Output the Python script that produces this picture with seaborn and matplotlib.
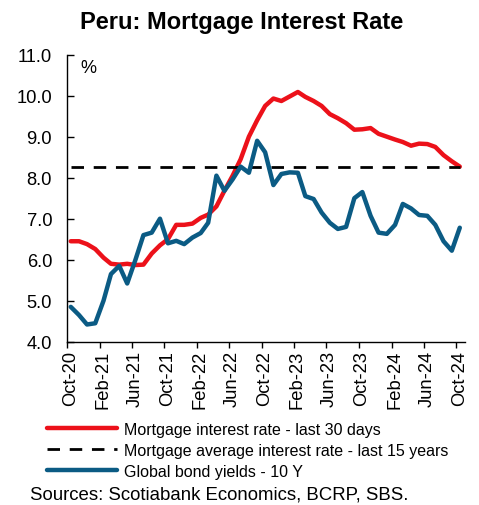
import numpy as np
import pandas as pd
import matplotlib
matplotlib.use("Agg")
import matplotlib.pyplot as plt
import matplotlib.transforms as mtransforms
import seaborn as sns

# ---- data (monthly, Oct-20 .. Oct-24) ----
start_month = "2020-10-01"
n_months = 49
mortgage_rate = [6.45, 6.45, 6.38, 6.26, 6.05, 5.90, 5.88, 5.90, 5.87, 5.88,
                 6.15, 6.35, 6.50, 6.85, 6.85, 6.88, 7.02, 7.10, 7.30, 7.68,
                 8.05, 8.45, 9.00, 9.40, 9.75, 9.93, 9.87, 9.98, 10.09, 9.97,
                 9.87, 9.75, 9.55, 9.45, 9.33, 9.17, 9.18, 9.21, 9.07, 9.00,
                 8.93, 8.87, 8.78, 8.83, 8.82, 8.75, 8.55, 8.40, 8.27]
avg_rate_15y = 8.27
bond_yields = [4.85, 4.65, 4.42, 4.45, 5.00, 5.65, 5.85, 5.42, 6.00, 6.60,
               6.66, 7.00, 6.40, 6.46, 6.38, 6.54, 6.65, 6.90, 8.05, 7.68,
               7.96, 8.27, 8.12, 8.90, 8.62, 7.82, 8.09, 8.13, 8.12, 7.55,
               7.48, 7.15, 6.90, 6.75, 6.80, 7.50, 7.65, 7.07, 6.66, 6.63,
               6.85, 7.36, 7.25, 7.09, 7.07, 6.85, 6.45, 6.22, 6.78]
tick_labels = ["Oct-20", "Feb-21", "Jun-21", "Oct-21", "Feb-22", "Jun-22", "Oct-22",
               "Feb-23", "Jun-23", "Oct-23", "Feb-24", "Jun-24", "Oct-24"]
label_mort = "Mortgage interest rate - last 30 days"
label_avg = "Mortgage average interest rate - last 15 years"
label_bond = "Global bond yields - 10 Y"

dates = pd.date_range(start_month, periods=n_months, freq="MS") + pd.Timedelta(days=13)
df = pd.DataFrame({"date": dates,
                   "mort": mortgage_rate,
                   "avg": [avg_rate_15y] * n_months,
                   "bond": bond_yields})

sns.set_theme(style="white")
plt.rcParams["font.family"] = ["Liberation Sans", "DejaVu Sans"]
plt.rcParams["text.color"] = "black"
plt.rcParams["axes.labelcolor"] = "black"
plt.rcParams["xtick.color"] = "black"
plt.rcParams["ytick.color"] = "black"

RED = "#EC111A"
BLUE = "#0B5B84"

fig = plt.figure(figsize=(4.79, 5.06), dpi=100)
ax = fig.add_axes([0.1405, 0.3227, 0.8305, 0.5673])

sns.lineplot(data=df, x="date", y="mort", ax=ax, color=RED, lw=3.2,
             label=label_mort, solid_capstyle="round", solid_joinstyle="round")
sns.lineplot(data=df, x="date", y="avg", ax=ax, color="black", lw=2.0,
             label=label_avg, dashes=False, linestyle=(0, (4.5, 3.5)))
sns.lineplot(data=df, x="date", y="bond", ax=ax, color=BLUE, lw=3.2,
             label=label_bond, solid_capstyle="round", solid_joinstyle="round")

ax.set_ylim(4.0, 11.0)
ax.set_yticks(np.arange(4.0, 11.01, 1.0))
ax.yaxis.set_major_formatter(matplotlib.ticker.FormatStrFormatter("%.1f"))
tick_dates = pd.date_range(start_month, periods=len(tick_labels), freq="4MS")
ax.set_xticks(tick_dates)
ax.set_xticklabels(tick_labels, rotation=90)
ax.set_xlim(pd.Timestamp("2020-10-01"), pd.Timestamp("2024-11-03"))
ax.set_xlabel("")
ax.set_ylabel("")

for s in ["top", "right"]:
    ax.spines[s].set_visible(False)
for s in ["left", "bottom"]:
    ax.spines[s].set_color("black")
    ax.spines[s].set_linewidth(1.0)

ax.tick_params(axis="y", direction="in", length=5, width=1.0, colors="black",
               labelsize=13.2, pad=11, left=True)
ax.tick_params(axis="x", direction="out", length=4, width=1.0, colors="black",
               labelsize=13.2, pad=2, bottom=True)
offset = mtransforms.ScaledTranslation(3 / 100, 0, fig.dpi_scale_trans)
for lab in ax.get_xticklabels():
    lab.set_color("black")
    lab.set_transform(lab.get_transform() + offset)
for lab in ax.get_yticklabels():
    lab.set_color("black")

ax.text(0.033, 0.955, "%", transform=ax.transAxes, fontsize=13, ha="left", va="center")

handles, labels = ax.get_legend_handles_labels()
ax.get_legend().remove()
fig.legend(handles, labels, loc="upper left", bbox_to_anchor=(0.098, 0.164),
           frameon=False, fontsize=11.5, handlelength=4.4, handletextpad=0.4,
           labelspacing=0.36, borderpad=0, borderaxespad=0)

fig.text(0.504, 0.9565, "Peru: Mortgage Interest Rate", ha="center", va="center",
         fontsize=17, fontweight="bold", color="black")
fig.text(0.063, 0.0217, "Sources: Scotiabank Economics, BCRP, SBS.", ha="left",
         va="center", fontsize=13.4, color="black")

fig.savefig("out.png", dpi=100, facecolor="white")
